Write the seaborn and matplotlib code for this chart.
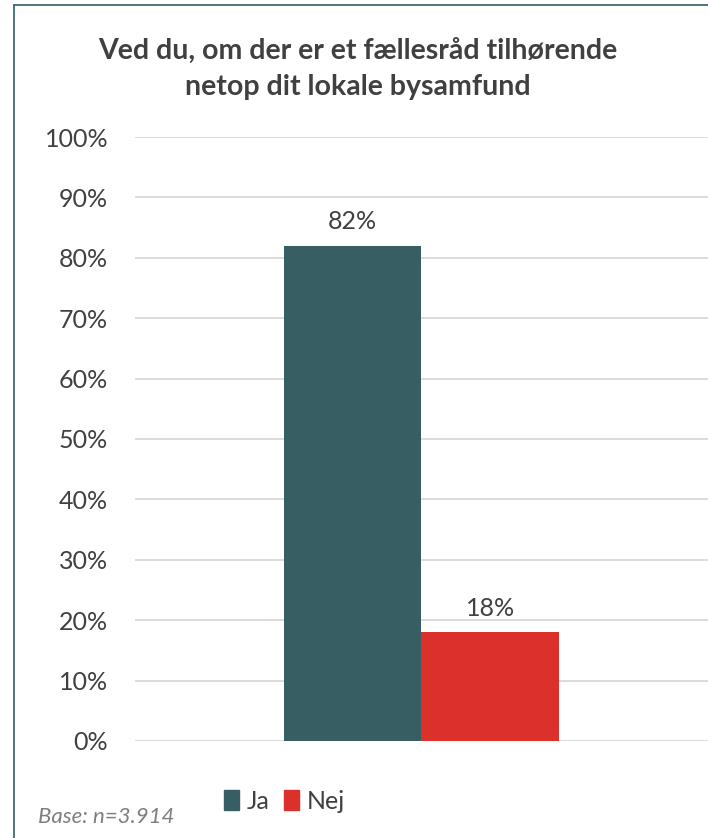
import pandas as pd
import numpy as np
import matplotlib
matplotlib.use('Agg')
import matplotlib.pyplot as plt
import seaborn as sns
from matplotlib.lines import Line2D
from matplotlib.patches import Rectangle

# ── DATA ─────────────────────────────────────────────────────
answers = ['Ja', 'Nej']
shares = [0.82, 0.18]
colors = ['#365E63', '#DC302B']
y_ticks = [i / 10 for i in range(11)]
title = 'Ved du, om der er et fællesråd tilhørende\nnetop dit lokale bysamfund'
base_note = 'Base: n=3.914'

df = pd.DataFrame({'grp': [''] * len(answers), 'svar': answers, 'andel': shares})

# ── STYLE ────────────────────────────────────────────────────
sns.set_theme(style='white')
plt.rcParams['font.family'] = ['Lato', 'DejaVu Sans']
txt = '#404040'

fig = plt.figure(figsize=(7.08, 8.38), dpi=100)
ax = fig.add_axes([0.19, 0.1158, 0.81, 0.7207])

sns.barplot(data=df, x='grp', y='andel', hue='svar', palette=colors,
            width=0.48, dodge=True, ax=ax, legend=False, saturation=1,
            linewidth=0, edgecolor='none')

ax.set_ylim(0, 1)
ax.set_xlim(-0.5, 0.5)
ax.set_yticks(y_ticks)
ax.set_yticklabels([f'{int(round(t * 100))}%' for t in y_ticks],
                   fontsize=18, color=txt)
ax.tick_params(axis='y', length=0, pad=19)
ax.tick_params(axis='x', length=0)
ax.set_xticklabels([])
ax.set_xlabel('')
ax.set_ylabel('')
for sp in ax.spines.values():
    sp.set_visible(False)
ax.yaxis.grid(True, color='#D9D9D9', linewidth=1.3)
ax.set_axisbelow(True)

# value labels
for cont in ax.containers:
    ax.bar_label(cont, labels=[f'{v * 100:.0f}%' for v in cont.datavalues],
                 padding=9, fontsize=18, color=txt)

# title
fig.text(0.5 + 0.005, 0.918, title, ha='center', va='center',
         fontsize=20.5, fontweight='bold', color=txt, linespacing=1.45)

# legend
handles = [Rectangle((0, 0), 1, 1, color=c) for c in colors]
fig.legend(handles, answers, loc='center', bbox_to_anchor=(0.402, 0.044),
           ncol=2, frameon=False, fontsize=18, handlelength=0.6,
           handleheight=0.85, handletextpad=0.3, columnspacing=0.6,
           labelcolor=txt)

# base note
fig.text(0.053, 0.025, base_note, ha='left', va='center', fontsize=16,
         fontstyle='italic', color='#7F7F7F')

# chart border (cropped: only top and left visible)
fig.add_artist(Line2D([14 / 708, 14 / 708], [0, 1 - 5 / 838],
                      transform=fig.transFigure, color='#2F5D62', linewidth=1.2))
fig.add_artist(Line2D([14 / 708, 1], [1 - 5 / 838, 1 - 5 / 838],
                      transform=fig.transFigure, color='#2F5D62', linewidth=1.2))

plt.savefig('out.png', dpi=100)
plt.close()
